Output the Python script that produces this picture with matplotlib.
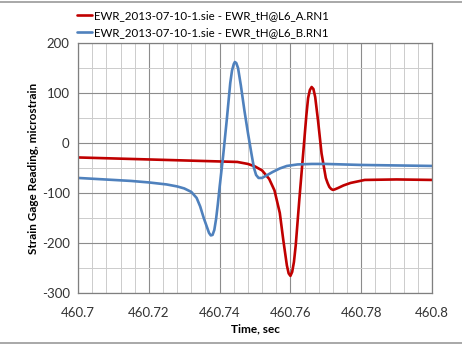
import matplotlib
matplotlib.use("Agg")
import matplotlib.pyplot as plt
from matplotlib.ticker import MultipleLocator, FixedLocator
from matplotlib.lines import Line2D

plt.rcParams['font.family'] = ['Lato', 'DejaVu Sans']
plt.rcParams['axes.unicode_minus'] = False

# series
t_a = [460.700, 460.710, 460.720, 460.730, 460.735, 460.740, 460.745, 460.748,
       460.750, 460.752, 460.754, 460.7555, 460.757, 460.758, 460.759, 460.7595,
       460.760, 460.7605, 460.761, 460.7615, 460.7625, 460.7635, 460.7645,
       460.765, 460.7655, 460.766, 460.7665, 460.767, 460.7678, 460.7688,
       460.770, 460.7705, 460.771, 460.7715, 460.772, 460.7725, 460.7735,
       460.775, 460.777, 460.781, 460.790, 460.800]
v_a = [-29, -31, -33, -35, -36, -37, -38, -42,
       -47, -55, -72, -95, -140, -195, -245, -261,
       -266, -258, -238, -205, -115, -30, 55,
       90, 106, 112, 108, 92, 45, -21,
       -70, -80, -88, -92, -94, -93, -90,
       -85, -80, -74, -73, -74]

t_b = [460.700, 460.705, 460.710, 460.715, 460.720, 460.725, 460.728, 460.730,
       460.732, 460.7335, 460.7345, 460.7355, 460.7365, 460.737, 460.7375,
       460.738, 460.7385, 460.739, 460.7395, 460.740, 460.741, 460.742, 460.743,
       460.7435, 460.744, 460.7443, 460.7447, 460.7452, 460.746, 460.747,
       460.748, 460.749, 460.7497, 460.7503, 460.751, 460.752, 460.753, 460.755,
       460.757, 460.759, 460.762, 460.766, 460.770, 460.775, 460.780, 460.790,
       460.800]
v_b = [-70, -72, -74, -76, -79, -83, -87, -91,
       -98, -110, -127, -150, -170, -180, -185,
       -184, -174, -152, -122, -88, -25, 45, 120,
       145, 158, 162, 160, 150, 115, 65,
       20, -22, -50, -64, -70, -70, -66, -58,
       -51, -46, -43, -42, -42, -43, -44, -45,
       -46]

label_a = "EWR_2013-07-10-1.sie - EWR_tH@L6_A.RN1"
label_b = "EWR_2013-07-10-1.sie - EWR_tH@L6_B.RN1"
x_ticks = [460.70, 460.72, 460.74, 460.76, 460.78, 460.80]
x_tick_labels = ["460.7", "460.72", "460.74", "460.76", "460.78", "460.8"]

fig = plt.figure(figsize=(4.62, 3.47), dpi=100)
ax = fig.add_axes([0.169, 0.156, 0.766, 0.720])

ax.plot(t_a, v_a, color='#C00000', lw=1.9, label=label_a,
        solid_capstyle='round', solid_joinstyle='round')
ax.plot(t_b, v_b, color='#4F81BD', lw=1.9, label=label_b,
        solid_capstyle='round', solid_joinstyle='round')

ax.set_xlim(460.7, 460.8)
ax.set_ylim(-300, 200)
ax.xaxis.set_major_locator(FixedLocator(x_ticks))
ax.set_xticklabels(x_tick_labels)
ax.xaxis.set_minor_locator(MultipleLocator(0.004))
ax.yaxis.set_major_locator(MultipleLocator(100))
ax.yaxis.set_minor_locator(MultipleLocator(50))

ax.grid(which='major', color='#8c8c8c', lw=0.8)
ax.grid(which='minor', color='#cccccc', lw=0.7)
ax.set_axisbelow(True)
for s in ax.spines.values():
    s.set_color('#7f7f7f')
    s.set_linewidth(0.9)
ax.tick_params(which='both', length=0, labelsize=9.5, colors='#333333')
ax.tick_params(axis='x', pad=10)
ax.tick_params(axis='y', pad=6)

ax.set_xlabel("Time, sec", fontsize=8.5, fontweight='bold', labelpad=3)
ax.set_ylabel("Strain Gage Reading, microstrain", fontsize=8.5, fontweight='bold', labelpad=2)

ax.legend(loc='lower left', bbox_to_anchor=(-0.005, 1.015), frameon=False,
          fontsize=8.3, handlelength=1.3, handletextpad=0.1, labelspacing=0.55,
          borderaxespad=0.0, borderpad=0.1)

fig.add_artist(Line2D([0, 1], [0.995, 0.995], color='#9a9a9a', lw=1.2, transform=fig.transFigure))
fig.add_artist(Line2D([0, 1], [0.012, 0.012], color='#9a9a9a', lw=1.2, transform=fig.transFigure))

fig.savefig("out.png", dpi=100)
